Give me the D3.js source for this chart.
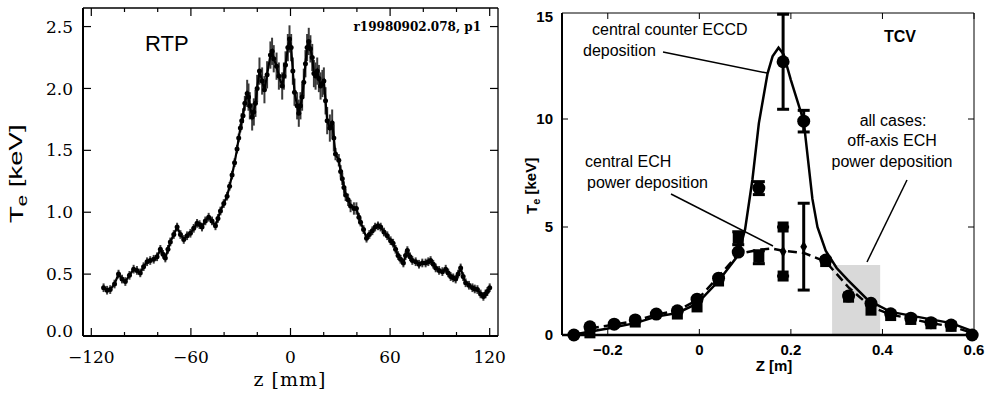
<!DOCTYPE html>
<html>
<head>
<meta charset="utf-8">
<script src="https://cdn.jsdelivr.net/npm/d3@7"></script>
<style>
  body { margin: 0; background: #fff; }
  svg { display: block; }
</style>
</head>
<body>
<svg id="chart" width="988" height="395"></svg>
<script>
// ---- left panel (RTP) : Te profile vs z [mm]
const rtpZ = [-112.6,-110.5,-108.6,-106,-103.6,-101.5,-99.5,-97,-94.5,-92.5,-90.5,-88.5,-86.4,-84.5,-82.4,-80.4,-78.4,-76.8,-75.4,-73.8,
  -72.4,-70.3,-68.3,-66.3,-64.3,-62.3,-60.3,-58.3,-56.3,-54.8,-53.3,-51.3,-49.3,-47.3,-45.2,-43.7,-42.2,-40.2,-38.2,-36.7,
  -35.2,-33.7,-32.2,-31.2,-30.2,-29.4,-28.6,-27.5,-26.1,-25.3,-24.5,-23.1,-22.1,-21.1,-20.1,-18.7,-17.1,-15.7,-14.1,-12.1,
  -11.1,-10.1,-8.4,-7,-5,-4,-3,-1.6,-0.6,0.4,1.4,2.4,4,5,6,7,8,9,10,11,
  12,13.1,14.1,15.1,16.1,17.1,18.1,19.2,20.1,21.1,22.1,23.7,25.1,26.1,27.1,29.1,30.2,31.2,32.2,33.2,
  34.7,36.2,38.2,39.7,41.2,42.2,44,45.8,47.5,49.3,51,52.7,54.3,56.3,58.3,60.3,61.8,63.3,64.8,66.3,
  68,69.3,70.4,72,73.4,75.4,77.4,79.4,81.4,83,84.4,86,87.5,89.5,91.5,93.5,95,96.5,98,99.5,
  101,102.5,104,105.5,107.5,109.6,111,112.6,114.5,116.2,117.5,118.6,120];
const rtpTe = [0.39,0.37,0.375,0.42,0.50,0.46,0.44,0.49,0.54,0.53,0.51,0.56,0.60,0.61,0.62,0.64,0.70,0.66,0.63,0.70,
  0.76,0.82,0.88,0.82,0.78,0.81,0.83,0.87,0.91,0.90,0.88,0.93,0.96,0.93,0.89,0.95,1.01,1.07,1.13,1.21,
  1.30,1.40,1.51,1.60,1.68,1.74,1.78,1.88,1.96,1.93,1.86,1.77,1.81,1.88,2.00,2.14,2.06,1.99,2.11,2.27,
  2.30,2.24,2.18,2.10,2.02,2.10,2.19,2.33,2.40,2.33,2.14,1.97,1.86,1.80,1.86,1.93,2.05,2.20,2.33,2.38,
  2.32,2.25,2.12,2.10,2.14,2.08,2.02,2.04,2.06,1.90,1.74,1.68,1.72,1.60,1.47,1.42,1.33,1.27,1.20,1.14,
  1.10,1.05,1.03,1.03,0.96,0.92,0.86,0.79,0.82,0.85,0.88,0.89,0.88,0.84,0.81,0.77,0.75,0.70,0.65,0.62,
  0.59,0.65,0.69,0.64,0.61,0.60,0.58,0.59,0.59,0.60,0.61,0.58,0.55,0.53,0.52,0.54,0.51,0.48,0.47,0.46,
  0.50,0.55,0.48,0.43,0.41,0.39,0.38,0.375,0.34,0.32,0.34,0.36,0.39];
// error bar half-width, by zone: [upper z limit, error]
const rtpErrZones = [[-30, 0.035], [-27, 0.06], [27, 0.11], [40, 0.05], [125, 0.035]];
const rtpXTicks = [-120, -60, 0, 60, 120];
const rtpXMinor = [-100, -80, -40, -20, 20, 40, 80, 100];
const rtpYTicks = [0, 0.5, 1.0, 1.5, 2.0, 2.5];

// ---- right panel (TCV) : Te vs Z [m]
const eccdZ   = [-0.274,-0.239,-0.186,-0.14,-0.094,-0.048,-0.005,0.042,0.085,0.13,0.183,0.228,0.276,0.326,0.375,0.418,0.462,0.506,0.55,0.596];
const eccdTe  = [0,0.38,0.5,0.7,0.97,1.12,1.66,2.63,3.84,6.8,12.65,9.9,3.47,1.8,1.47,0.98,0.78,0.57,0.46,0];
const eccdErr = [0,0,0,0,0,0,0,0,0,0.3,2.2,0.5,0,0,0,0,0,0,0,0];

const echZ   = [-0.239,-0.14,-0.048,-0.005,0.042,0.085,0.13,0.183,0.183,0.276,0.326,0.375,0.418,0.462,0.506,0.55];
const echTe  = [0.1,0.6,0.97,1.3,2.5,4.48,3.6,5.0,2.73,3.4,1.75,1.15,0.9,0.72,0.52,0.4];
const echErr = [0,0,0,0,0,0.3,0.3,0,0,0,0,0,0,0,0,0];

const diaZ  = [0.183, 0.228];
const diaTe = [3.86, 4.09];
const diaLo = [2.73, 2.08];
const diaHi = [5.0, 6.1];

const solidZ  = [-0.274,-0.2,-0.14,-0.094,-0.048,-0.005,0.042,0.085,0.1,0.116,0.13,0.149,0.16,0.173,0.184,0.2,0.228,0.247,0.258,0.276,0.3,0.324,0.368,0.418,0.477,0.55,0.594];
const solidTe = [0.02,0.3,0.55,0.85,1.02,1.45,2.5,3.7,4.9,7.2,9.8,12.1,12.9,13.3,13.0,11.8,9.9,6.3,5.0,3.9,3.1,2.55,1.62,1.07,0.84,0.55,0.2];

const dashZ  = [-0.239,-0.186,-0.14,-0.094,-0.048,-0.005,0.042,0.085,0.13,0.16,0.183,0.228,0.258,0.276,0.326,0.375,0.418,0.462,0.506,0.55,0.596];
const dashTe = [0.3,0.48,0.65,0.95,1.12,1.62,2.7,3.75,3.95,4.0,3.9,3.8,3.55,3.4,2.2,1.3,0.95,0.75,0.55,0.4,0.1];

const shadeZ = [0.29, 0.395];
const shadeTe = 3.24;
const tcvXTicks = [-0.2, 0, 0.2, 0.4, 0.6];
const tcvYTicks = [0, 5, 10, 15];

const svg = d3.select('#chart');

// ================= left panel
(function () {
  const L = {left: 83, right: 498, top: 8, bottom: 336};
  const x = d3.scaleLinear().domain([-125, 125]).range([L.left, L.right]);
  const y = d3.scaleLinear().domain([0, 2.65]).range([L.bottom, L.top]);
  const g = svg.append('g');
  const serif = '"DejaVu Serif", serif';

  // frame
  g.append('line').attr('x1', L.left).attr('x2', L.right).attr('y1', L.top).attr('y2', L.top).attr('stroke', '#000').attr('stroke-width', 1.3);
  g.append('line').attr('x1', L.right).attr('x2', L.right).attr('y1', L.top).attr('y2', L.bottom).attr('stroke', '#000').attr('stroke-width', 1.3);
  g.append('line').attr('x1', L.left).attr('x2', L.right).attr('y1', L.bottom).attr('y2', L.bottom).attr('stroke', '#000').attr('stroke-width', 2);
  g.append('line').attr('x1', L.left).attr('x2', L.left).attr('y1', L.top).attr('y2', L.bottom).attr('stroke', '#000').attr('stroke-width', 2);

  // x ticks (inward, bottom + top)
  const tk = g.append('g').attr('stroke', '#000').attr('stroke-width', 1.2);
  rtpXTicks.forEach(v => {
    tk.append('line').attr('x1', x(v)).attr('x2', x(v)).attr('y1', L.bottom).attr('y2', L.bottom - 8);
    tk.append('line').attr('x1', x(v)).attr('x2', x(v)).attr('y1', L.top).attr('y2', L.top + 8);
  });
  rtpXMinor.forEach(v => {
    tk.append('line').attr('x1', x(v)).attr('x2', x(v)).attr('y1', L.bottom).attr('y2', L.bottom - 4);
    tk.append('line').attr('x1', x(v)).attr('x2', x(v)).attr('y1', L.top).attr('y2', L.top + 4);
  });
  rtpYTicks.forEach(v => {
    tk.append('line').attr('x1', L.left).attr('x2', L.left + 8).attr('y1', y(v)).attr('y2', y(v));
    tk.append('line').attr('x1', L.right).attr('x2', L.right - 8).attr('y1', y(v)).attr('y2', y(v));
  });

  g.selectAll('.xl').data(rtpXTicks).enter().append('text')
    .attr('x', d => x(d)).attr('y', 363)
    .attr('text-anchor', 'middle')
    .style('font-family', serif).style('font-size', '17px')
    .text(d => d < 0 ? '\u2212' + Math.abs(d) : d);

  g.selectAll('.yl').data(rtpYTicks).enter().append('text')
    .attr('x', 73).attr('y', d => y(d) - (d === 0 ? 5 : 0))
    .attr('dy', '0.36em')
    .attr('text-anchor', 'end')
    .style('font-family', serif).style('font-size', '17px')
    .text(d => d.toFixed(1));

  g.append('text').attr('x', 290).attr('y', 386).attr('text-anchor', 'middle')
    .style('font-family', serif).style('font-size', '19px').style('letter-spacing', '1px')
    .text('z [mm]');

  const yl = g.append('text')
    .attr('transform', 'translate(23,223) rotate(-90) scale(1.45,1)')
    .style('font-family', '"Liberation Sans", Arial, sans-serif').style('font-size', '19px');
  yl.append('tspan').text('T');
  yl.append('tspan').attr('dy', '0.3em').style('font-size', '14px').text('e');
  yl.append('tspan').attr('dy', '-0.3em').text(' [keV]');

  g.append('text').attr('x', 145).attr('y', 51)
    .style('font-family', '"Liberation Sans", Arial, sans-serif').style('font-size', '22px')
    .text('RTP');
  g.append('text').attr('x', 481).attr('y', 31).attr('text-anchor', 'end')
    .style('font-family', serif).style('font-size', '12px').style('font-weight', 'bold')
    .text('r19980902.078, p1');

  // data
  const pts = rtpZ.map((z, i) => ({z, t: rtpTe[i], e: rtpErrZones.find(zz => z <= zz[0])[1]}));
  g.append('g').attr('stroke', '#3a3a3a').attr('stroke-width', 2)
    .selectAll('line').data(pts).enter().append('line')
    .attr('x1', d => x(d.z)).attr('x2', d => x(d.z))
    .attr('y1', d => y(d.t - d.e)).attr('y2', d => y(d.t + d.e));
  g.append('path').datum(pts)
    .attr('fill', 'none').attr('stroke', '#000').attr('stroke-width', 2.2)
    .attr('d', d3.line().x(d => x(d.z)).y(d => y(d.t)));
  g.append('g').selectAll('circle').data(pts).enter().append('circle')
    .attr('cx', d => x(d.z)).attr('cy', d => y(d.t)).attr('r', 2.5).attr('fill', '#000');
})();

// ================= right panel
(function () {
  const R = {left: 562, right: 974, top: 13, bottom: 335};
  const x = d3.scaleLinear().domain([-0.3, 0.6]).range([R.left, R.right]);
  const y = d3.scaleLinear().domain([0, 15]).range([R.bottom, 11]);
  const g = svg.append('g');
  const sans = '"Liberation Sans", Arial, sans-serif';

  // shaded region
  g.append('rect')
    .attr('x', x(shadeZ[0])).attr('width', x(shadeZ[1]) - x(shadeZ[0]))
    .attr('y', y(shadeTe)).attr('height', y(0) - y(shadeTe))
    .attr('fill', '#d9d9d9');

  // frame
  g.append('line').attr('x1', R.left).attr('x2', R.right).attr('y1', R.top).attr('y2', R.top).attr('stroke', '#000').attr('stroke-width', 1);
  g.append('line').attr('x1', R.right).attr('x2', R.right).attr('y1', R.top).attr('y2', R.bottom).attr('stroke', '#000').attr('stroke-width', 1);
  g.append('line').attr('x1', R.left).attr('x2', R.right).attr('y1', R.bottom).attr('y2', R.bottom).attr('stroke', '#000').attr('stroke-width', 2.5);
  g.append('line').attr('x1', R.left).attr('x2', R.left).attr('y1', R.top).attr('y2', R.bottom).attr('stroke', '#000').attr('stroke-width', 2);

  const tk = g.append('g').attr('stroke', '#000').attr('stroke-width', 1);
  tcvXTicks.forEach(v => {
    tk.append('line').attr('x1', x(v)).attr('x2', x(v)).attr('y1', R.bottom).attr('y2', R.bottom - 6);
    tk.append('line').attr('x1', x(v)).attr('x2', x(v)).attr('y1', R.top).attr('y2', R.top + 6);
  });
  tcvYTicks.slice(1, 3).forEach(v => {
    tk.append('line').attr('x1', R.left).attr('x2', R.left + 6).attr('y1', y(v)).attr('y2', y(v));
    tk.append('line').attr('x1', R.right).attr('x2', R.right - 6).attr('y1', y(v)).attr('y2', y(v));
  });

  g.selectAll('.xl').data(tcvXTicks).enter().append('text')
    .attr('x', d => x(d)).attr('y', 355).attr('text-anchor', 'middle')
    .style('font-family', sans).style('font-size', '15px').style('font-weight', 'bold')
    .text(d => d === 0 ? '0' : (d < 0 ? '\u2212' : '') + Math.abs(d).toFixed(1));
  g.selectAll('.yl').data(tcvYTicks).enter().append('text')
    .attr('x', 553).attr('y', d => y(d) + (d === 15 ? 6 : 0)).attr('dy', '0.36em').attr('text-anchor', 'end')
    .style('font-family', sans).style('font-size', '15px').style('font-weight', 'bold')
    .text(d => d);

  g.append('text').attr('x', 774).attr('y', 371).attr('text-anchor', 'middle')
    .style('font-family', sans).style('font-size', '15px').style('font-weight', 'bold')
    .text('Z [m]');
  const yl = g.append('text')
    .attr('transform', 'translate(537,214) rotate(-90)')
    .style('font-family', sans).style('font-size', '15px').style('font-weight', 'bold');
  yl.append('tspan').text('T');
  yl.append('tspan').attr('dy', '0.3em').style('font-size', '11px').text('e');
  yl.append('tspan').attr('dy', '-0.3em').text('  [keV]');

  // model curves
  const line = d3.line().x(d => x(d[0])).y(d => y(d[1]));
  g.append('path').datum(solidZ.map((z, i) => [z, solidTe[i]]))
    .attr('fill', 'none').attr('stroke', '#000').attr('stroke-width', 2.5).attr('d', line);
  g.append('path').datum(dashZ.map((z, i) => [z, dashTe[i]]))
    .attr('fill', 'none').attr('stroke', '#000').attr('stroke-width', 2.5)
    .attr('stroke-dasharray', '9,5').attr('d', line);

  // error bars
  function errBar(z, lo, hi, cap) {
    const eg = g.append('g').attr('stroke', '#000').attr('stroke-width', 3);
    eg.append('line').attr('x1', x(z)).attr('x2', x(z)).attr('y1', y(lo)).attr('y2', y(hi));
    if (cap) {
      eg.append('line').attr('x1', x(z) - 6).attr('x2', x(z) + 6).attr('y1', y(lo)).attr('y2', y(lo));
      eg.append('line').attr('x1', x(z) - 6).attr('x2', x(z) + 6).attr('y1', y(hi)).attr('y2', y(hi));
    }
  }
  eccdZ.forEach((z, i) => { if (eccdErr[i] > 0) errBar(z, eccdTe[i] - eccdErr[i], Math.min(eccdTe[i] + eccdErr[i], 14.9), true); });
  echZ.forEach((z, i) => { if (echErr[i] > 0) errBar(z, echTe[i] - echErr[i], echTe[i] + echErr[i], true); });
  diaZ.forEach((z, i) => errBar(z, diaLo[i], diaHi[i], true));

  // markers
  g.append('g').selectAll('rect').data(echZ.map((z, i) => [z, echTe[i]])).enter().append('rect')
    .attr('x', d => x(d[0]) - 5.5).attr('y', d => y(d[1]) - 5.5)
    .attr('width', 11).attr('height', 11).attr('fill', '#000');
  g.append('g').selectAll('circle').data(eccdZ.map((z, i) => [z, eccdTe[i]])).enter().append('circle')
    .attr('cx', d => x(d[0])).attr('cy', d => y(d[1])).attr('r', 6.5).attr('fill', '#000');
  g.append('g').selectAll('path').data(diaZ.map((z, i) => [z, diaTe[i]])).enter().append('path')
    .attr('transform', d => `translate(${x(d[0])},${y(d[1])})`)
    .attr('d', d3.symbol(d3.symbolDiamond, 40)).attr('fill', '#000');

  // annotations
  const ann = (tx, ty, s, anchor) => g.append('text').attr('x', tx).attr('y', ty)
    .attr('text-anchor', anchor || 'start')
    .style('font-family', sans).style('font-size', '16px').text(s);
  ann(592, 35, 'central counter ECCD');
  ann(583, 56, 'deposition');
  ann(585, 167, 'central ECH');
  ann(587, 188, 'power deposition');
  ann(893, 126, 'all cases:', 'middle');
  ann(892, 146, 'off-axis ECH', 'middle');
  ann(892, 167, 'power deposition', 'middle');
  g.append('text').attr('x', 900).attr('y', 42).attr('text-anchor', 'middle')
    .style('font-family', sans).style('font-size', '16px').style('font-weight', 'bold').text('TCV');

  const lead = g.append('g').attr('stroke', '#000').attr('stroke-width', 1.5);
  lead.append('line').attr('x1', 663).attr('y1', 52).attr('x2', 767).attr('y2', 73);
  lead.append('line').attr('x1', 671).attr('y1', 194).attr('x2', 773).attr('y2', 246);
  lead.append('line').attr('x1', 907).attr('y1', 180).attr('x2', 867).attr('y2', 262);
})();
</script>
</body>
</html>
